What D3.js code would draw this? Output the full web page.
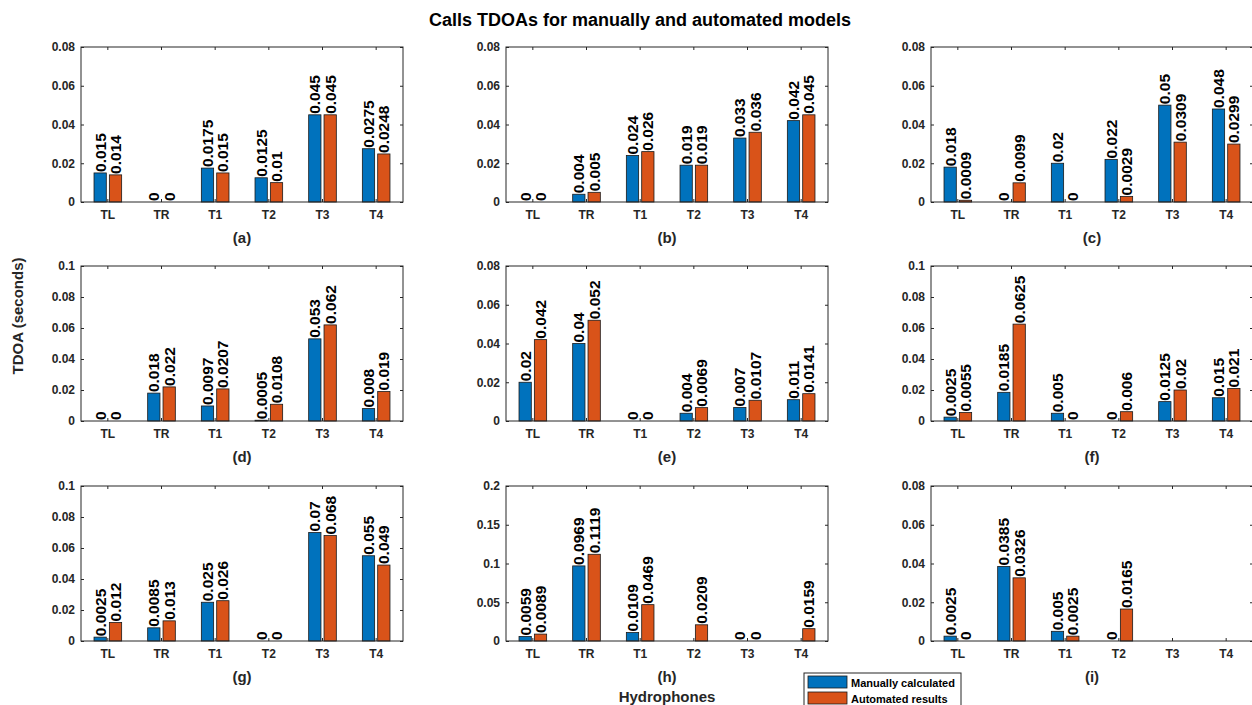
<!DOCTYPE html>
<html>
<head>
<meta charset="utf-8">
<script src="https://cdn.jsdelivr.net/npm/d3@7"></script>
<style>
  html, body { margin: 0; padding: 0; background: #fff; }
  svg { display: block; font-family: "Liberation Sans", Arial, Helvetica, sans-serif; font-weight: bold; }
</style>
</head>
<body>
<svg id="chart" width="1252" height="705"></svg>
<script>
// ---- Data ----
const categories = ["TL", "TR", "T1", "T2", "T3", "T4"];
const panelLabels = ["(a)", "(b)", "(c)", "(d)", "(e)", "(f)", "(g)", "(h)", "(i)"];
const seriesNames = ["Manually calculated", "Automated results"];

const manualA = [0.015, 0, 0.0175, 0.0125, 0.045, 0.0275];
const autoA   = [0.014, 0, 0.015, 0.01, 0.045, 0.0248];
const manualB = [0, 0.004, 0.024, 0.019, 0.033, 0.042];
const autoB   = [0, 0.005, 0.026, 0.019, 0.036, 0.045];
const manualC = [0.018, 0, 0.02, 0.022, 0.05, 0.048];
const autoC   = [0.0009, 0.0099, 0, 0.0029, 0.0309, 0.0299];
const manualD = [0, 0.018, 0.0097, 0.0005, 0.053, 0.008];
const autoD   = [0, 0.022, 0.0207, 0.0108, 0.062, 0.019];
const manualE = [0.02, 0.04, 0, 0.004, 0.007, 0.011];
const autoE   = [0.042, 0.052, 0, 0.0069, 0.0107, 0.0141];
const manualF = [0.0025, 0.0185, 0.005, 0, 0.0125, 0.015];
const autoF   = [0.0055, 0.0625, 0, 0.006, 0.02, 0.021];
const manualG = [0.0025, 0.0085, 0.025, 0, 0.07, 0.055];
const autoG   = [0.012, 0.013, 0.026, 0, 0.068, 0.049];
const manualH = [0.0059, 0.0969, 0.0109, null, 0, null];
const autoH   = [0.0089, 0.1119, 0.0469, 0.0209, 0, 0.0159];
const manualI = [0.0025, 0.0385, 0.005, 0, null, null];
const autoI   = [0, 0.0326, 0.0025, 0.0165, null, null];

const ticks008 = [0, 0.02, 0.04, 0.06, 0.08];
const ticks010 = [0, 0.02, 0.04, 0.06, 0.08, 0.1];
const ticks020 = [0, 0.05, 0.1, 0.15, 0.2];
const tickLabels008 = ["0", "0.02", "0.04", "0.06", "0.08"];
const tickLabels010 = ["0", "0.02", "0.04", "0.06", "0.08", "0.1"];
const tickLabels020 = ["0", "0.05", "0.1", "0.15", "0.2"];

const panels = [
  { label: panelLabels[0], manual: manualA, auto: autoA, ticks: ticks008, tickLabels: tickLabels008 },
  { label: panelLabels[1], manual: manualB, auto: autoB, ticks: ticks008, tickLabels: tickLabels008 },
  { label: panelLabels[2], manual: manualC, auto: autoC, ticks: ticks008, tickLabels: tickLabels008 },
  { label: panelLabels[3], manual: manualD, auto: autoD, ticks: ticks010, tickLabels: tickLabels010 },
  { label: panelLabels[4], manual: manualE, auto: autoE, ticks: ticks008, tickLabels: tickLabels008 },
  { label: panelLabels[5], manual: manualF, auto: autoF, ticks: ticks010, tickLabels: tickLabels010 },
  { label: panelLabels[6], manual: manualG, auto: autoG, ticks: ticks010, tickLabels: tickLabels010 },
  { label: panelLabels[7], manual: manualH, auto: autoH, ticks: ticks020, tickLabels: tickLabels020 },
  { label: panelLabels[8], manual: manualI, auto: autoI, ticks: ticks008, tickLabels: tickLabels008 }
];

// ---- Layout ----
const colors = ["#0072BD", "#D95319"];
const axisColor = "#262626";
const colX = [81, 506, 931];
const rowY = [47, 266, 486];
const pw = 322, ph = 155;

const svg = d3.select("#chart");

svg.append("text")
  .attr("x", 640).attr("y", 26)
  .attr("text-anchor", "middle")
  .attr("font-size", 18)
  .attr("fill", "#000")
  .text("Calls TDOAs for manually and automated models");

panels.forEach((p, i) => {
  const gx = colX[i % 3], gy = rowY[Math.floor(i / 3)];
  const g = svg.append("g").attr("transform", `translate(${gx},${gy})`);

  const x = d3.scaleBand().domain(categories).range([0, pw]).padding(0);
  const step = x.step();
  const y = d3.scaleLinear().domain([0, p.ticks[p.ticks.length - 1]]).range([ph, 0]);

  const barW = step * 0.229;
  const offs = [-step * 0.143, step * 0.143];

  // bars
  [p.manual, p.auto].forEach((vals, s) => {
    const data = categories.map((c, k) => ({ c, v: vals[k] })).filter(d => d.v !== null);
    g.selectAll(null).data(data).enter().append("rect")
      .attr("x", d => x(d.c) + step / 2 + offs[s] - barW / 2)
      .attr("y", d => y(d.v))
      .attr("width", barW)
      .attr("height", d => ph - y(d.v))
      .attr("fill", colors[s])
      .attr("stroke", "#1a1a1a")
      .attr("stroke-width", 0.8);
    g.selectAll(null).data(data).enter().append("text")
      .attr("transform", d => `translate(${x(d.c) + step / 2 + offs[s]},${y(d.v) - 1}) rotate(-90)`)
      .attr("dy", "0.36em")
      .attr("text-anchor", "start")
      .attr("font-size", 15.5)
      .attr("fill", "#000")
      .text(d => String(d.v));
  });

  // axes
  const fmt = v => p.tickLabels[p.ticks.indexOf(v)];
  const left = g.append("g")
    .call(d3.axisLeft(y).tickValues(p.ticks).tickFormat(fmt).tickSize(-3).tickPadding(6));
  const right = g.append("g").attr("transform", `translate(${pw},0)`)
    .call(d3.axisRight(y).tickValues(p.ticks).tickFormat("").tickSize(-3));
  const bottom = g.append("g").attr("transform", `translate(0,${ph})`)
    .call(d3.axisBottom(x).tickSize(-3).tickPadding(8));
  const top = g.append("g")
    .call(d3.axisTop(x).tickFormat("").tickSize(-3));
  [left, right, bottom, top].forEach(a => {
    a.select(".domain").remove();
    a.selectAll("line").attr("stroke", axisColor);
    a.selectAll("text").attr("fill", axisColor).attr("font-size", 12)
      .attr("font-family", "Liberation Sans, Arial, sans-serif").attr("font-weight", "bold");
  });
  g.append("rect").attr("x", 0).attr("y", 0).attr("width", pw).attr("height", ph)
    .attr("fill", "none").attr("stroke", axisColor).attr("stroke-width", 1);

  g.append("text")
    .attr("x", pw / 2).attr("y", ph + 41)
    .attr("text-anchor", "middle")
    .attr("font-size", 15)
    .attr("fill", axisColor)
    .text(p.label);
});

// y axis label
svg.append("text")
  .attr("transform", "translate(23,316) rotate(-90)")
  .attr("text-anchor", "middle")
  .attr("font-size", 15)
  .attr("fill", axisColor)
  .text("TDOA (seconds)");

// x axis label
svg.append("text")
  .attr("x", 667).attr("y", 702)
  .attr("text-anchor", "middle")
  .attr("font-size", 15)
  .attr("fill", axisColor)
  .text("Hydrophones");

// legend
const lg = svg.append("g").attr("transform", "translate(804,673)");
lg.append("rect").attr("x", 0).attr("y", 0).attr("width", 157).attr("height", 38)
  .attr("fill", "#fff").attr("stroke", axisColor).attr("stroke-width", 1);
seriesNames.forEach((n, s) => {
  lg.append("rect").attr("x", 4).attr("y", 3 + s * 16).attr("width", 39).attr("height", 12)
    .attr("fill", colors[s]).attr("stroke", "#1a1a1a").attr("stroke-width", 0.8);
  lg.append("text").attr("x", 47).attr("y", 14 + s * 16)
    .attr("font-size", 11).attr("fill", "#000").text(n);
});
</script>
</body>
</html>
